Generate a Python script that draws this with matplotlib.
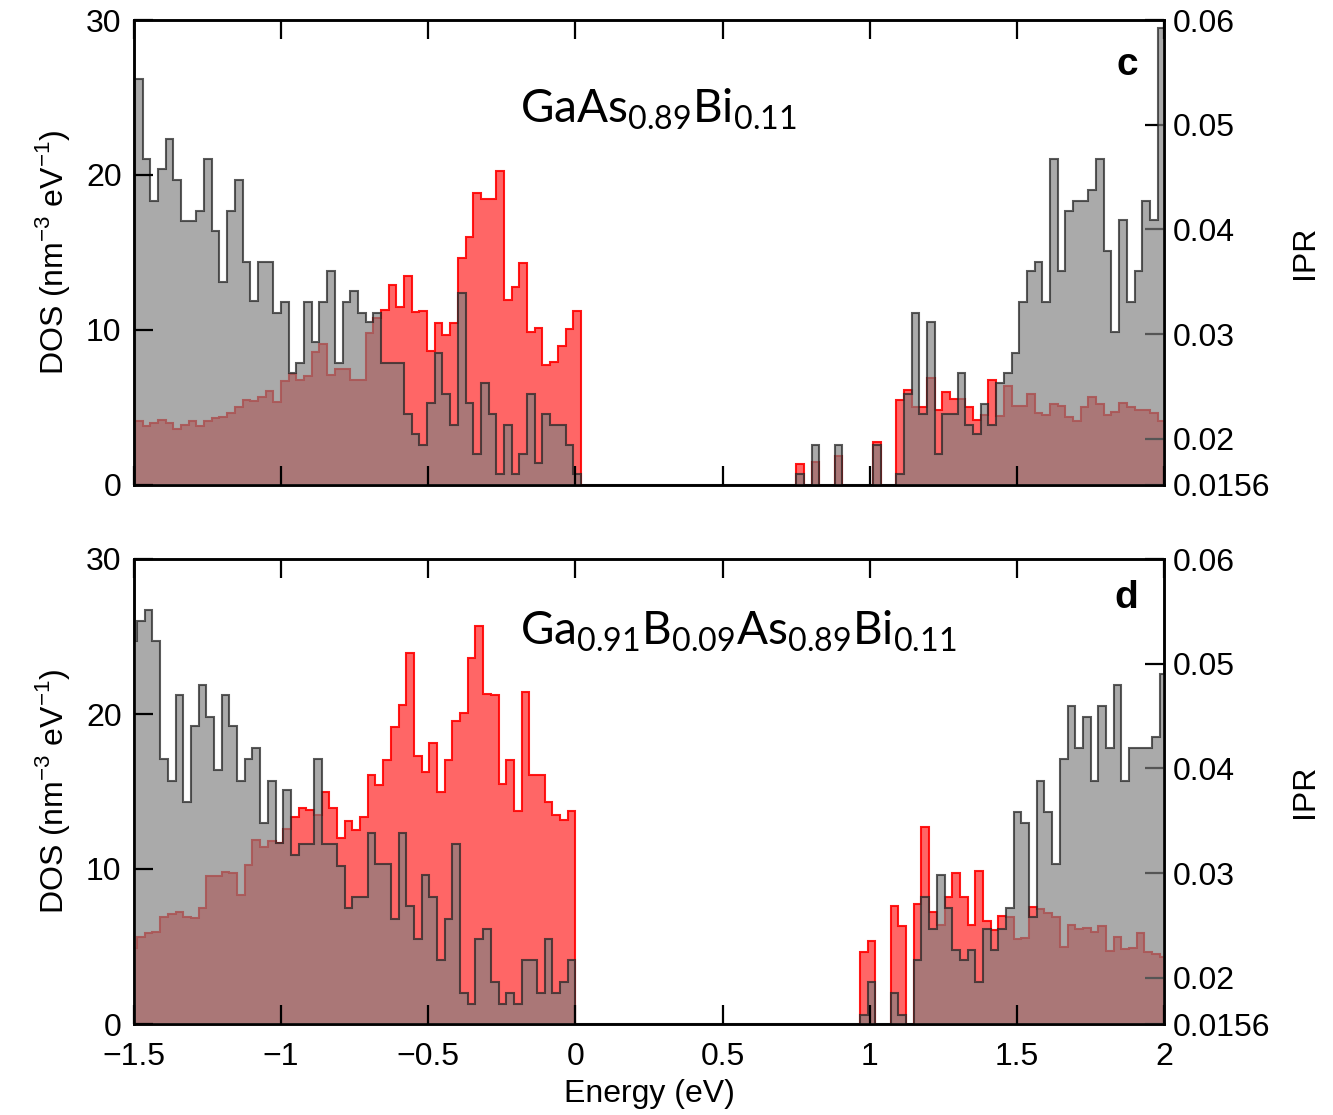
import matplotlib.pyplot as plt
import numpy as np

plt.rcParams['font.family'] = ['Liberation Sans', 'DejaVu Sans']

# bin width of both histograms (eV)
w = 0.02613

# ---- panel c: GaAs0.89Bi0.11 ----
edges_c = -1.497 + w * np.arange(135)
dos_c = [26.2, 21.0, 18.3, 20.4, 22.3, 19.7, 17.0, 17.0, 17.7, 21.0,
         16.4, 13.1, 17.7, 19.7, 14.4, 11.9, 14.4, 14.4, 11.1, 11.8,
         7.2, 7.9, 11.8, 9.2, 11.8, 13.8, 7.9, 11.8, 12.5, 11.1,
         10.5, 11.1, 7.9, 7.9, 7.9, 4.6, 3.3, 2.6, 5.3, 8.5,
         5.9, 3.9, 12.4, 5.3, 2.0, 6.6, 4.6, 0.7, 3.9, 0.7,
         2.0, 5.9, 1.4, 4.6, 3.9, 3.9, 2.6, 0.7,
         0, 0, 0, 0, 0, 0, 0, 0, 0, 0, 0, 0, 0, 0,
         0, 0, 0, 0, 0, 0, 0, 0, 0, 0, 0, 0, 0, 0,
         0.7, 0, 2.6, 0, 0, 2.6, 0, 0, 0, 0, 2.6, 0, 0,
         0.7, 5.9, 11.1, 4.6, 10.5, 2.0, 4.6, 4.6, 7.2, 3.9,
         3.3, 5.2, 3.9, 6.6, 7.2, 8.5, 11.8, 13.8, 14.4, 11.8,
         21.0, 13.8, 17.7, 18.3, 18.3, 19.0, 21.0, 15.1, 9.9, 17.1,
         11.8, 13.8, 18.3, 17.1, 29.5]
ipr_c = [0.0217, 0.0212, 0.0215, 0.0218, 0.0215, 0.0209, 0.0213, 0.0217, 0.0212, 0.0217,
         0.0220, 0.0221, 0.0225, 0.0230, 0.0237, 0.0236, 0.0240, 0.0246, 0.0235, 0.0255,
         0.0262, 0.0256, 0.0260, 0.0283, 0.0291, 0.0261, 0.0267, 0.0267, 0.0256, 0.0256,
         0.0301, 0.0315, 0.0323, 0.0347, 0.0326, 0.0356, 0.0321, 0.0322, 0.0284, 0.0311,
         0.0299, 0.0311, 0.0373, 0.0393, 0.0435, 0.0429, 0.0429, 0.0456, 0.0333, 0.0345,
         0.0368, 0.0302, 0.0306, 0.0271, 0.0273, 0.0289, 0.0305, 0.0322,
         0, 0, 0, 0, 0, 0, 0, 0, 0, 0, 0, 0, 0, 0,
         0, 0, 0, 0, 0, 0, 0, 0, 0, 0, 0, 0, 0, 0,
         0.0176, 0, 0.0178, 0, 0, 0.0184, 0, 0, 0, 0, 0.0197, 0, 0,
         0.0237, 0.0247, 0.0230, 0.0230, 0.0258, 0.0228, 0.0245, 0.0238, 0.0238, 0.0230,
         0.0218, 0.0223, 0.0256, 0.0222, 0.0251, 0.0231, 0.0231, 0.0243, 0.0225, 0.0223,
         0.0233, 0.0231, 0.0221, 0.0217, 0.0230, 0.0240, 0.0233, 0.0223, 0.0226, 0.0234,
         0.0230, 0.0228, 0.0228, 0.0225, 0.0217]

# ---- panel d: Ga0.91B0.09As0.89Bi0.11 ----
edges_d = w * np.arange(-58, 78)
dos_d = [24.7, 26.0, 26.7, 24.7, 17.1, 15.7, 21.2, 14.3, 19.2, 21.9,
         19.8, 16.4, 21.2, 19.2, 15.7, 17.1, 17.8, 13.0, 15.7, 11.7,
         15.1, 10.9, 11.6, 11.6, 17.1, 11.6, 11.6, 10.2, 7.5, 8.2,
         8.2, 12.3, 10.3, 10.3, 6.8, 12.3, 7.6, 5.5, 9.6, 8.2,
         4.1, 6.8, 11.6, 2.0, 1.3, 5.5, 6.1, 2.7, 1.3, 2.0,
         1.3, 4.1, 4.1, 2.0, 5.5, 2.0, 2.7, 4.1,
         0, 0, 0, 0, 0, 0, 0, 0, 0, 0, 0, 0, 0, 0, 0, 0, 0, 0, 0,
         0, 0, 0, 0, 0, 0, 0, 0, 0, 0, 0, 0, 0, 0, 0, 0, 0, 0,
         0.6, 2.7, 0, 0, 2.0, 0.6, 0,
         4.1, 8.2, 6.1, 9.6, 7.5, 4.8, 4.1, 4.8, 2.7, 6.1,
         4.8, 6.1, 7.5, 13.7, 13.0, 6.9, 15.7, 13.7, 10.3, 17.1,
         20.5, 17.8, 19.8, 15.7, 20.5, 17.8, 21.9, 15.7, 17.8, 17.8,
         17.8, 18.5, 22.6]
ipr_d = [0.0229, 0.0239, 0.0243, 0.0244, 0.0258, 0.0261, 0.0263, 0.0258, 0.0257, 0.0267,
         0.0297, 0.0297, 0.0301, 0.0300, 0.0279, 0.0308, 0.0332, 0.0325, 0.0331, 0.0329,
         0.0342, 0.0354, 0.0362, 0.0360, 0.0356, 0.0378, 0.0362, 0.0334, 0.0350, 0.0341,
         0.0354, 0.0394, 0.0384, 0.0408, 0.0440, 0.0461, 0.0510, 0.0412, 0.0397, 0.0424,
         0.0378, 0.0408, 0.0445, 0.0453, 0.0505, 0.0536, 0.0471, 0.0470, 0.0385, 0.0408,
         0.0359, 0.0473, 0.0394, 0.0394, 0.0368, 0.0356, 0.0351, 0.0359,
         0, 0, 0, 0, 0, 0, 0, 0, 0, 0, 0, 0, 0, 0, 0, 0, 0, 0, 0,
         0, 0, 0, 0, 0, 0, 0, 0, 0, 0, 0, 0, 0, 0, 0, 0, 0, 0,
         0.0225, 0.0235, 0, 0, 0.0269, 0.0250, 0,
         0.0271, 0.0344, 0.0263, 0.0251, 0.0277, 0.0300, 0.0277, 0.0251, 0.0302, 0.0254,
         0.0246, 0.0259, 0.0258, 0.0237, 0.0238, 0.0268, 0.0266, 0.0262, 0.0258, 0.0230,
         0.0251, 0.0247, 0.0248, 0.0244, 0.0250, 0.0226, 0.0239, 0.0228, 0.0229, 0.0243,
         0.0225, 0.0223, 0.0220]

xticks = [-1.5, -1, -0.5, 0, 0.5, 1, 1.5, 2]
xticklabels = ['\u22121.5', '\u22121', '\u22120.5', '0', '0.5', '1', '1.5', '2']
dos_ticks = [0, 10, 20, 30]
ipr_ticks = [0.0156, 0.02, 0.03, 0.04, 0.05, 0.06]
ipr_labels = ['0.0156', '0.02', '0.03', '0.04', '0.05', '0.06']

fs = 23


def draw_panel(ax, edges, dos, ipr, formula, letter, fy, ly, bottom_labels):
    ax2 = ax.twinx()
    # IPR (red) below, DOS (grey) on top
    ax2.stairs(ipr, edges, baseline=0, fill=True, facecolor=(1, 0, 0, 0.6),
               edgecolor=(1, 0, 0, 0.9), linewidth=1.5)
    ax.stairs(dos, edges, baseline=0, fill=True, facecolor=(0.5, 0.5, 0.5, 0.67),
              edgecolor=(0.15, 0.15, 0.15, 0.75), linewidth=1.5)
    ax.set_zorder(ax2.get_zorder() + 1)
    ax.patch.set_visible(False)

    ax.set_xlim(-1.5, 2)
    ax.set_ylim(0, 30)
    ax2.set_ylim(0.0156, 0.06)

    ax.set_xticks(xticks)
    ax.set_yticks(dos_ticks)
    ax2.set_yticks(ipr_ticks)
    ax2.set_yticklabels(ipr_labels)
    if bottom_labels:
        ax.set_xticklabels(xticklabels)
        ax.set_xlabel('Energy (eV)', fontsize=fs, labelpad=5)
    else:
        ax.set_xticklabels([])

    ax.tick_params(axis='x', direction='in', length=14, width=1.6, top=True,
                   labelsize=fs, pad=13)
    ax.tick_params(axis='y', direction='in', length=14, width=1.6,
                    labelsize=fs, pad=9)
    ax2.tick_params(axis='y', direction='in', length=14, width=1.6,
                    labelsize=fs, pad=6)
    for a in (ax, ax2):
        for sp in a.spines.values():
            sp.set_linewidth(1.8)

    ax.set_ylabel('DOS (nm$^{\\mathregular{-3}}$ eV$^{\\mathregular{-1}}$)', fontsize=fs)
    ax.yaxis.set_label_coords(-0.06, 0.5)
    ax2.set_ylabel('IPR', fontsize=fs, rotation=90)
    ax2.yaxis.set_label_coords(1.122, 0.5)

    ax.text(0.375, fy, formula, transform=ax.transAxes, fontsize=33,
            family='Lato', ha='left', va='baseline')
    ax.text(0.975, ly, letter, transform=ax.transAxes, fontsize=28,
            fontweight='bold', ha='right', va='baseline')


fig = plt.figure(figsize=(13.33, 11.15), dpi=100)
ax_c = fig.add_axes([134 / 1333, 1 - 485 / 1115, 1030 / 1333, 465 / 1115])
ax_d = fig.add_axes([134 / 1333, 1 - 1024 / 1115, 1030 / 1333, 465 / 1115])

draw_panel(ax_c, edges_c, dos_c, ipr_c,
           r'$\mathregular{GaAs_{0.89}Bi_{0.11}}$', 'c', 0.778, 0.882, False)
draw_panel(ax_d, edges_d, dos_d, ipr_d,
           r'$\mathregular{Ga_{0.91}B_{0.09}As_{0.89}Bi_{0.11}}$', 'd', 0.815, 0.895, True)

fig.savefig('out.png', dpi=100)
